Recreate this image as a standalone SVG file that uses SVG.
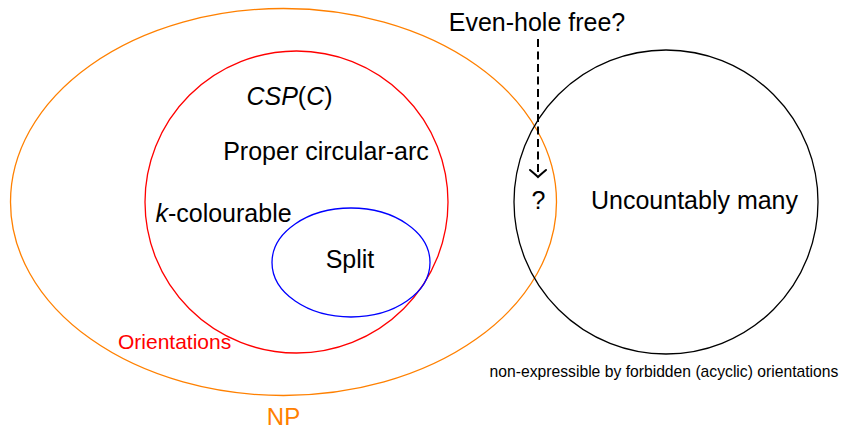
<svg xmlns="http://www.w3.org/2000/svg" width="843" height="431" viewBox="0 0 843 431">
<style>
text{font-family:"Liberation Sans",Arial,sans-serif;fill:#000;}
.lbl{font-size:25px;text-anchor:middle;}
.it{font-style:italic;}
.set{fill:none;stroke-width:1.3;}
</style>
<defs>
<marker id="to" markerUnits="userSpaceOnUse" markerWidth="20" markerHeight="20" viewBox="-10 -10 20 20" refX="0" refY="0" orient="auto" overflow="visible">
<path d="M-7,-8 Q-1.5,-1.5 0,0 Q-1.5,1.5 -7,8" fill="none" stroke="#000" stroke-width="2" stroke-linecap="round"/>
</marker>
</defs>
<rect width="843" height="431" fill="#fff"/>
<g id="np">
<ellipse class="set" cx="283.5" cy="202" rx="273" ry="193.5" stroke="#FF8000"/>
<text x="283.5" y="425" font-size="24" text-anchor="middle" style="fill:#FF8000">NP</text>
</g>
<g id="orientations">
<ellipse class="set" cx="296.5" cy="202" rx="151.5" ry="151" stroke="#FF0000"/>
<text x="118" y="349" font-size="21" style="fill:#FF0000">Orientations</text>
<text class="lbl" x="289.5" y="105"><tspan class="it">CSP</tspan>(<tspan class="it">C</tspan>)</text>
<text class="lbl" x="326" y="160">Proper circular-arc</text>
<text class="lbl" x="223.5" y="222"><tspan class="it">k</tspan>-colourable</text>
</g>
<g id="split">
<ellipse class="set" cx="351" cy="262.5" rx="79" ry="54.5" stroke="#0000FF"/>
<text class="lbl" x="350" y="268">Split</text>
</g>
<g id="uncountable">
<circle class="set" cx="666" cy="202" r="152" stroke="#000"/>
<text class="lbl" x="694.5" y="209">Uncountably many</text>
<text x="664" y="377" font-size="15.7" text-anchor="middle">non-expressible by forbidden (acyclic) orientations</text>
</g>
<g id="evenhole">
<text class="lbl" x="537" y="31">Even-hole free?</text>
</g>
<g id="unknown">
<text class="lbl" x="538.5" y="209">?</text>
</g>
<g id="connectors">
<line x1="538" y1="39" x2="538" y2="177" stroke="#000" stroke-width="2" stroke-dasharray="8 4.5" marker-end="url(#to)"/>
</g>
</svg>
